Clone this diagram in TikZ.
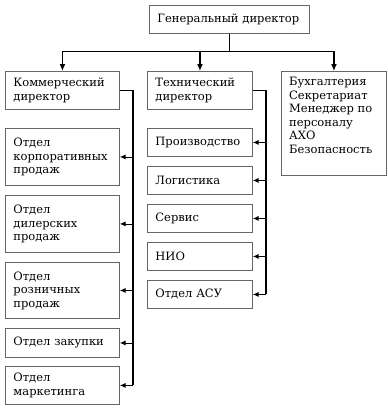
\documentclass[tikz,border=0pt]{standalone}
\usepackage{fontspec}
\setmainfont{DejaVu Serif}
\usetikzlibrary{arrows.meta,positioning}
\tikzset{
  unit/.style={draw=black!60,line width=0.9pt,anchor=north west,align=left,
    inner xsep=8pt,inner ysep=2pt,font=\fontsize{11.5}{13.5}\selectfont},
  lcol/.style={unit,text width=98pt},
  mcol/.style={unit,text width=89pt,minimum height=28pt},
  link/.style={line width=1.1pt,draw=black},
  arr/.style={link,-{Latex[length=2.4mm,width=2mm]}},
  bus/.style={line width=1.8pt,draw=black},
  feed/.style={line width=0.9pt,draw=black,-{Latex[length=2mm,width=1.8mm]}}
}
\begin{document}
\begin{tikzpicture}[x=1pt,y=-1pt]
  \useasboundingbox[fill=white] (0,0) rectangle (388,410);

  % top level
  \node[unit,text width=144pt,minimum height=28pt] (gen) at (149,5) {Генеральный директор};

  % second level
  \node[lcol,minimum height=38pt] (kom) at (5,71) {Коммерческий\\директор};
  \node[mcol,minimum height=38pt] (teh) at (147,71) {Технический\\директор};
  \node[unit,text width=89pt,minimum height=104pt] (buh) at (281,71) {};
  \node[anchor=north west,align=left,inner sep=0pt,
    font=\fontsize{11.5}{13.5}\selectfont] (buhtext) at ([xshift=8pt,yshift=-6pt]buh.north west)
    {Бухгалтерия\\Секретариат\\Менеджер по\\персоналу\\АХО\\Безопасность};

  \coordinate (split) at ([yshift=-18pt]gen.south);
  \draw[link] (gen.south) -- (split);
  \draw[arr] (split) -| (kom.north);
  \draw[arr] (split) -| (buh.north);
  \draw[arr] (teh.north |- split) -- (teh.north);

  % commercial departments
  \node[lcol,minimum height=57pt] (korp) at (5,128) {Отдел\\корпоративных\\продаж};
  \node[lcol,minimum height=57pt] (dil) at (5,195) {Отдел\\дилерских\\продаж};
  \node[lcol,minimum height=56pt] (rozn) at (5,262) {Отдел\\розничных\\продаж};
  \node[lcol,minimum height=29pt] (zak) at (5,328) {Отдел закупки};
  \node[lcol,minimum height=38pt] (mark) at (5,366) {Отдел\\маркетинга};

  \draw[link,line width=0.9pt] (kom.east) -- ++(13,0) coordinate (kbus);
  \draw[bus] (kbus) -- (kbus |- mark.east);
  \foreach \n in {korp,dil,rozn,zak,mark}{
    \draw[feed] (kbus |- \n.east) -- (\n.east);
  }

  % technical departments
  \node[mcol] (proizv) at (147,128) {Производство};
  \node[mcol] (logist) at (147,166) {Логистика};
  \node[mcol] (serv) at (147,204) {Сервис};
  \node[mcol] (nio) at (147,242) {НИО};
  \node[mcol] (asu) at (147,280) {Отдел АСУ};

  \draw[link,line width=0.9pt] (teh.east) -- ++(13,0) coordinate (tbus);
  \draw[bus] (tbus) -- (tbus |- asu.east);
  \foreach \n in {proizv,logist,serv,nio,asu}{
    \draw[feed] (tbus |- \n.east) -- (\n.east);
  }
\end{tikzpicture}
\end{document}
